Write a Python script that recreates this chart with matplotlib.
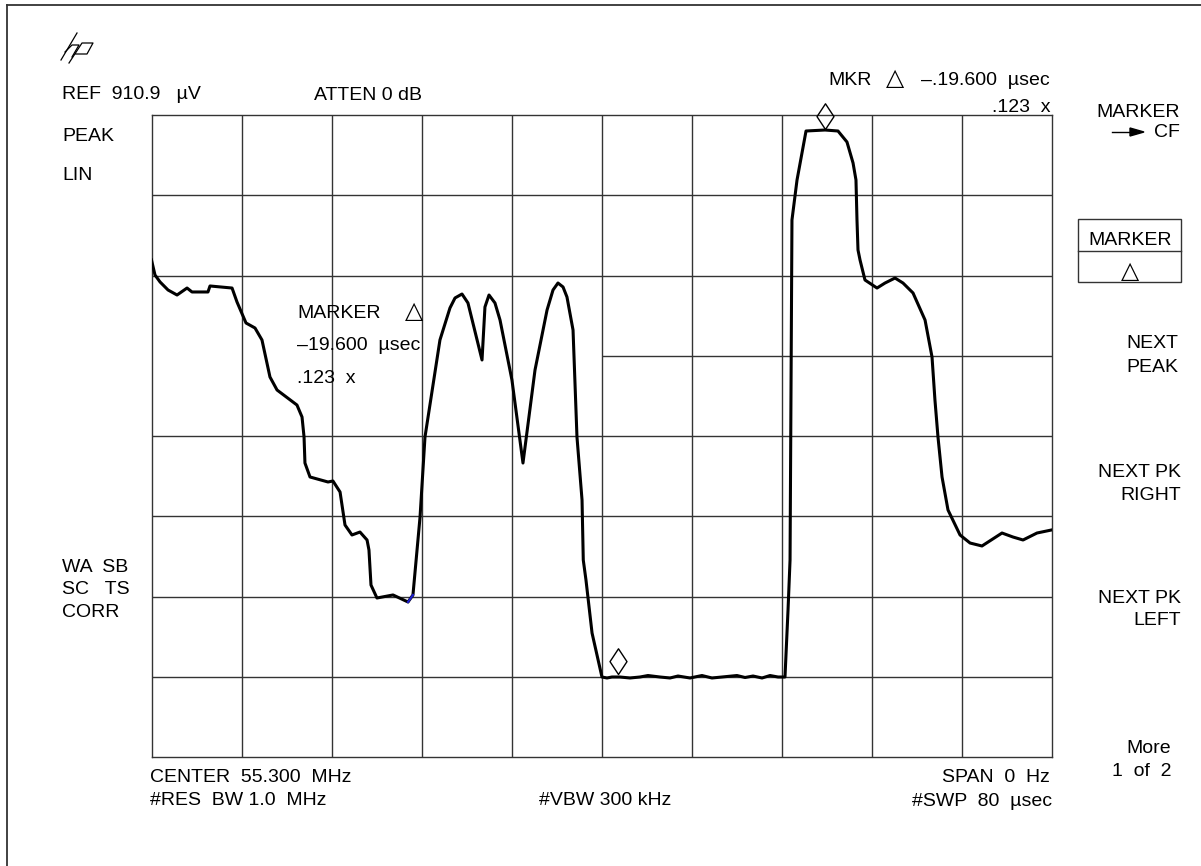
import matplotlib
matplotlib.use("Agg")
import matplotlib.pyplot as plt
from matplotlib.path import Path
from matplotlib.lines import Line2D
from matplotlib.patches import Rectangle, Polygon

plt.rcParams['font.family'] = ['Liberation Sans', 'DejaVu Sans']

# ---------------- data ----------------
sweep_us = 80.0          # sweep time (x axis, µs)
ref_uV = 910.9           # reference level (top of screen, µV)
n_xdiv = 10
n_ydiv = 8

# trace: time (µs) and amplitude (µV)
trace_t = [0.0, 0.31, 0.76, 1.47, 2.27, 3.16, 3.60, 5.02, 5.20, 7.16, 7.60, 8.40, 9.20,
           9.82, 10.53, 11.16, 12.93, 13.38, 13.56, 13.64, 14.09, 15.69, 16.13, 16.76,
           17.20, 17.82, 18.53, 19.16, 19.33, 19.51, 20.04, 21.47, 22.80, 23.24, 23.87,
           24.31, 25.64, 26.53, 26.98, 27.60, 28.13, 29.38, 29.64, 30.00, 30.53, 30.98,
           32.04, 33.02, 34.09, 35.16, 35.69, 36.13, 36.58, 36.93, 37.47, 37.82, 38.27,
           38.38, 38.62, 39.16, 40.04, 40.49, 40.93, 41.64, 42.53, 43.42, 44.13, 45.20,
           46.09, 46.80, 47.87, 48.93, 49.82, 50.71, 52.04, 52.76, 53.47, 54.27, 54.98,
           55.69, 56.31, 56.58, 56.76, 56.93, 57.38, 58.18, 59.87, 61.02, 61.82, 62.36,
           62.62, 62.71, 62.80, 62.98, 63.42, 64.49, 65.20, 66.09, 66.80, 67.69, 68.76,
           69.38, 69.64, 69.91, 70.27, 70.80, 71.87, 72.76, 73.82, 75.60, 76.58, 77.47,
           78.71, 80.0]
trace_a = [705.2, 683.9, 674.0, 662.6, 655.5, 665.4, 659.8, 659.8, 668.3, 665.4, 645.6,
           615.8, 608.7, 591.7, 539.2, 520.7, 499.4, 482.4, 454.0, 417.1, 397.3, 390.2,
           391.6, 376.0, 329.2, 315.0, 319.2, 307.9, 293.7, 244.0, 225.6, 229.9, 219.9,
           229.9, 340.5, 454.0, 591.7, 637.1, 651.3, 656.9, 644.2, 563.3, 638.5, 655.5,
           644.2, 620.0, 534.9, 417.1, 549.1, 634.2, 662.6, 672.5, 666.9, 652.7, 605.8,
           454.0, 364.6, 279.5, 251.1, 175.9, 113.5, 112.1, 113.5, 113.5, 112.1, 113.5,
           115.6, 113.5, 112.1, 114.9, 112.1, 115.6, 112.1, 113.5, 115.6, 112.8, 114.9,
           112.1, 115.6, 113.5, 113.5, 208.6, 279.5, 761.9, 818.7, 888.2, 889.6, 888.2,
           872.6, 842.8, 818.7, 761.9, 719.4, 705.2, 676.8, 665.4, 672.5, 679.6, 672.5,
           658.4, 620.0, 567.5, 506.5, 454.0, 397.3, 350.5, 315.0, 303.6, 299.4, 317.8,
           312.1, 307.9, 317.8, 322.1]

# markers (time µs, amplitude µV at the diamond tip)
marker_t = [41.47, 59.87]
marker_a = [117.8, 891.0]

W, H = 1201, 866
fig = plt.figure(figsize=(W / 100, H / 100), dpi=100)
fig.patch.set_facecolor('white')


def fx(x):
    return x / W


def fy(y):
    return 1 - y / H


# outer frame (left and top only)
fig.add_artist(Line2D([fx(7), fx(7)], [0, fy(5)], color='#333333', lw=1.3,
                      transform=fig.transFigure))
fig.add_artist(Line2D([fx(7), 1], [fy(5), fy(5)], color='#333333', lw=1.3,
                      transform=fig.transFigure))

# screen axes
x0, x1, y0, y1 = 151.5, 1051.5, 115, 757
ax = fig.add_axes([fx(x0), fy(y1), (x1 - x0) / W, (y1 - y0) / H])
ax.set_xlim(0, sweep_us)
ax.set_ylim(0, ref_uV)
ax.set_xticks([])
ax.set_yticks([])
gc = '#333333'
for s in ax.spines.values():
    s.set_color(gc)
    s.set_linewidth(1.0)

dx = sweep_us / n_xdiv
dy = ref_uV / n_ydiv
for i in range(1, n_xdiv):
    ax.axvline(i * dx, color=gc, lw=1.0, zorder=1)
for j in range(1, n_ydiv):
    if j == 5:
        ax.hlines(j * dy, 5 * dx, sweep_us, color=gc, lw=1.0, zorder=1)
    else:
        ax.axhline(j * dy, color=gc, lw=1.0, zorder=1)

ax.plot(trace_t, trace_a, color='black', lw=2.2, zorder=3, solid_joinstyle='round')
ax.plot(trace_t[32:34], trace_a[32:34], color='#2020d0', lw=1.6, zorder=4)

diamond = Path([(0, 0), (0.33, 0.5), (0, 1), (-0.33, 0.5), (0, 0)],
               [Path.MOVETO, Path.LINETO, Path.LINETO, Path.LINETO, Path.CLOSEPOLY])
ax.plot(marker_t, marker_a, linestyle='none', marker=diamond, markersize=37,
        markerfacecolor='none', markeredgecolor='black', markeredgewidth=1.0,
        zorder=5, clip_on=False)

# ---------------- text ----------------
FS = 14
TRI = 17


def txt(x, y, s, ha='left', fs=FS, **kw):
    fig.text(fx(x), fy(y), s, ha=ha, va='baseline', fontsize=fs, color='black', **kw)


def tri(xc, y, fs=TRI):
    fig.text(fx(xc), fy(y), '△', ha='center', va='baseline', fontsize=fs,
             color='black', family='DejaVu Sans')


# hp logo
for seg in [[(61, 60), (77, 33)],
            [(65, 52), (72, 45), (79, 45), (72, 57)],
            [(69, 63), (82, 43), (93, 43), (87, 54), (76, 54)]]:
    fig.add_artist(Line2D([fx(p[0]) for p in seg], [fy(p[1]) for p in seg],
                          color='black', lw=0.9, transform=fig.transFigure))

txt(62, 99, 'REF  910.9   µV')
txt(314, 100, 'ATTEN 0 dB')
txt(62, 141, 'PEAK')
txt(62, 180, 'LIN')
txt(828, 85, 'MKR')
tri(895, 85)
txt(1050, 85, '–.19.600  µsec', ha='right')
txt(1050, 112, '.123  x', ha='right')

# in-screen marker readout
txt(297, 318, 'MARKER')
tri(414, 318)
txt(297, 350, '–19.600  µsec')
txt(297, 383, '.123  x')

# left status
txt(62, 572, 'WA  SB')
txt(62, 594, 'SC   TS')
txt(62, 617, 'CORR')

# softkeys
txt(1180, 117, 'MARKER', ha='right')
txt(1180, 137, 'CF', ha='right')
fig.add_artist(Line2D([fx(1112), fx(1132)], [fy(132), fy(132)], color='black',
                      lw=1.0, transform=fig.transFigure))
fig.add_artist(Polygon([(fx(1130), fy(128)), (fx(1144), fy(132)), (fx(1130), fy(136))],
                       closed=True, color='black', transform=fig.transFigure))
fig.add_artist(Rectangle((fx(1078), fy(282)), 103 / W, 63 / H, fill=False,
                         edgecolor='#333333', lw=1.0, transform=fig.transFigure))
fig.add_artist(Line2D([fx(1078), fx(1181)], [fy(251), fy(251)], color='#333333',
                      lw=1.0, transform=fig.transFigure))
txt(1130, 245, 'MARKER', ha='center')
tri(1130, 278)
txt(1178, 348, 'NEXT', ha='right')
txt(1178, 372, 'PEAK', ha='right')
txt(1181, 477, 'NEXT PK', ha='right')
txt(1181, 500, 'RIGHT', ha='right')
txt(1181, 603, 'NEXT PK', ha='right')
txt(1181, 625, 'LEFT', ha='right')
txt(1171, 753, 'More', ha='right')
txt(1171, 776, '1  of  2', ha='right')

# bottom annotations
txt(150, 782, 'CENTER  55.300  MHz')
txt(150, 805, '#RES  BW 1.0  MHz')
txt(539, 805, '#VBW 300 kHz')
txt(1050, 782, 'SPAN  0  Hz', ha='right')
txt(1052, 806, '#SWP  80  µsec', ha='right')

fig.savefig('out.png', dpi=100, facecolor='white')
